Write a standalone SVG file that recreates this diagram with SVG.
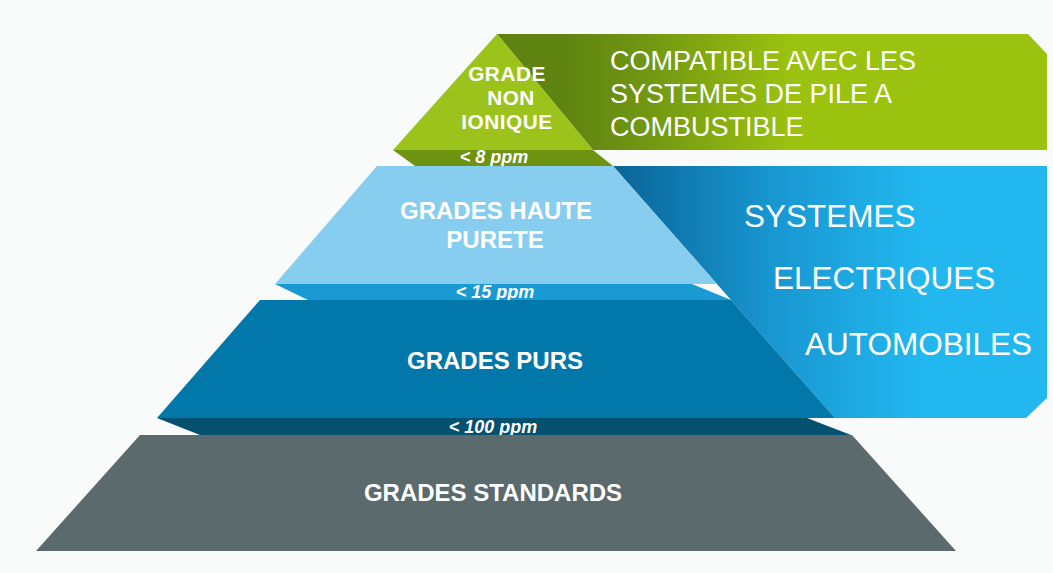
<svg xmlns="http://www.w3.org/2000/svg" width="1053" height="573" viewBox="0 0 1053 573">
  <defs>
    <linearGradient id="gGreen" gradientUnits="userSpaceOnUse" x1="560" y1="0" x2="790" y2="0">
      <stop offset="0" stop-color="#5f8310"/>
      <stop offset="0.35" stop-color="#6f9512"/>
      <stop offset="1" stop-color="#9bc20f"/>
    </linearGradient>
    <linearGradient id="gBlue" gradientUnits="userSpaceOnUse" x1="620" y1="0" x2="920" y2="0">
      <stop offset="0" stop-color="#0b669a"/>
      <stop offset="0.5" stop-color="#1896d0"/>
      <stop offset="1" stop-color="#22b7ef"/>
    </linearGradient>
    <style>
      .lbl { font-family: "Liberation Sans", Arial, sans-serif; font-weight: bold; fill: #ffffff; text-anchor: middle; font-size: 24px; }
      .top { font-family: "Liberation Sans", Arial, sans-serif; font-weight: bold; fill: #ffffff; text-anchor: middle; font-size: 20.8px; letter-spacing: 0.5px; }
      .ppm { font-family: "Liberation Sans", Arial, sans-serif; font-weight: bold; font-style: italic; fill: #ffffff; text-anchor: middle; font-size: 18px; }
      .big { font-family: "Liberation Sans", Arial, sans-serif; fill: #ffffff; }
    </style>
  </defs>
  <rect x="0" y="0" width="1053" height="573" fill="#f9fafa"/>

  <g id="banner-fuel-cell">
    <polygon points="497,34 1028,34 1047,54 1047,150 593,150" fill="url(#gGreen)"/>
    <text class="big" font-size="27" x="610" y="70">COMPATIBLE AVEC LES</text>
    <text class="big" font-size="27" x="610" y="103">SYSTEMES DE PILE A</text>
    <text class="big" font-size="27" x="610" y="136">COMBUSTIBLE</text>
  </g>

  <g id="banner-automotive">
    <polygon points="613,166 1047,166 1047,398 1026,418 835,418" fill="url(#gBlue)"/>
    <text class="big" font-size="31.5" x="744" y="227">SYSTEMES</text>
    <text class="big" font-size="31.5" x="773" y="289">ELECTRIQUES</text>
    <text class="big" font-size="31.5" x="805" y="355">AUTOMOBILES</text>
  </g>

  <g id="layer-non-ionique">
    <polygon points="497,34 593,150 393,150" fill="#9cc31b"/>
    <polygon points="393,150 593,150 613,166 415,166" fill="#6e9311"/>
    <text class="top" x="507" y="81">GRADE</text>
    <text class="top" x="511" y="105">NON</text>
    <text class="top" x="507" y="129">IONIQUE</text>
    <text class="ppm" x="494" y="163">&lt; 8 ppm</text>
  </g>

  <g id="layer-haute-purete">
    <polygon points="377,166 613,166 717,284 275,284" fill="#86cdef"/>
    <polygon points="275,284 692,284 731,300 308,300" fill="#1a9ad2"/>
    <text class="lbl" x="496" y="219">GRADES HAUTE</text>
    <text class="lbl" x="495" y="248">PURETE</text>
    <text class="ppm" x="495" y="298">&lt; 15 ppm</text>
  </g>

  <g id="layer-purs">
    <polygon points="260,300 731,300 835,418 157,418" fill="#0277a9"/>
    <polygon points="157,418 807,418 851,435 200,435" fill="#04506f"/>
    <text class="lbl" x="495" y="369">GRADES PURS</text>
    <text class="ppm" x="493" y="433">&lt; 100 ppm</text>
  </g>

  <g id="layer-standards">
    <polygon points="140,435 852,435 956,551 36,551" fill="#5b6a6c"/>
    <text class="lbl" x="493" y="501">GRADES STANDARDS</text>
  </g>
</svg>
